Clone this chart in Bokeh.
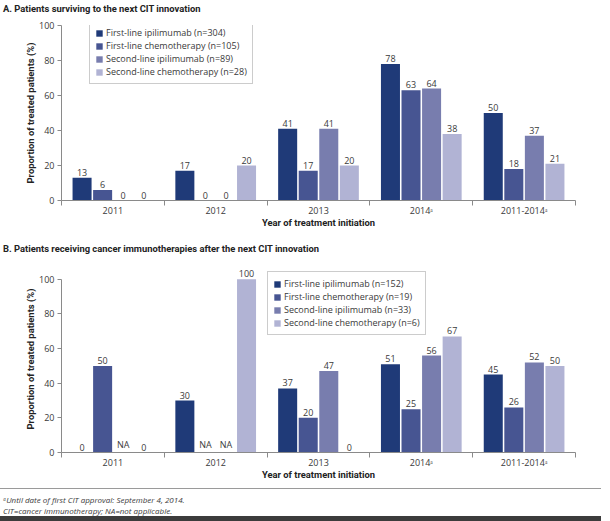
from bokeh.plotting import figure
from bokeh.models import (ColumnDataSource, FixedTicker, LabelSet, Legend, LegendItem,
                          Range1d, Div)
from bokeh.layouts import column
from bokeh.core.properties import value
from bokeh.embed import file_html
from bokeh.resources import INLINE

# ---------------- data ----------------
categories = ["2011", "2012", "2013", "2014ᵃ", "2011-2014ᵃ"]

title_A = "A. Patients surviving to the next CIT innovation"
names_A = ["First-line ipilimumab (n=304)", "First-line chemotherapy (n=105)",
           "Second-line ipilimumab (n=89)", "Second-line chemotherapy (n=28)"]
a_first_ipi = [13, 17, 41, 78, 50]
a_first_chemo = [6, 0, 17, 63, 18]
a_second_ipi = [0, 0, 41, 64, 37]
a_second_chemo = [0, 20, 20, 38, 21]

title_B = "B. Patients receiving cancer immunotherapies after the next CIT innovation"
names_B = ["First-line ipilimumab (n=152)", "First-line chemotherapy (n=19)",
           "Second-line ipilimumab (n=33)", "Second-line chemotherapy (n=6)"]
b_first_ipi = [0, 30, 37, 51, 45]
b_first_chemo = [50, None, 20, 25, 26]   # None = NA
b_second_ipi = [None, None, 47, 56, 52]
b_second_chemo = [0, 100, 0, 67, 50]

y_ticks = [0, 20, 40, 60, 80, 100]
x_title = "Year of treatment initiation"
y_title = "Proportion of treated patients (%)"
footnote_1 = "ᵃUntil date of first CIT approval: September 4, 2014."
footnote_2 = "CIT=cancer immunotherapy; NA=not applicable."

colors = ["#1f3a78", "#475592", "#787dae", "#b1b3d4"]

BODY = "Open Sans"
BOLD = "Roboto"
AXIS_COLOR = "#8a8a8a"
TEXT_COLOR = "#3a3a3a"
W = 610


def header(text, height):
    html = (f'<div style="width:{W}px;height:{height}px;line-height:{height - 2}px;'
            f'padding-left:3px;box-sizing:border-box;white-space:nowrap;'
            f'font-family:{BOLD};font-size:9.4px;font-weight:bold;color:#222222;">'
            f'{text}</div>')
    return Div(text=html, width=W, height=height, margin=(0, 0, 0, 0))


def make_panel(names, series, height, top, bottom, y_end, legend_loc):
    n = len(categories)
    p = figure(width=W, height=height, output_backend="svg", toolbar_location=None,
               x_range=Range1d(0, n), y_range=Range1d(0, y_end),
               min_border_left=61, min_border_right=35,
               min_border_top=top, min_border_bottom=bottom)
    p.outline_line_color = None
    p.grid.visible = False

    offsets = [-0.3, -0.1, 0.1, 0.3]
    items = []
    for k, (vals, name) in enumerate(zip(series, names)):
        xs = [i + 0.5 + offsets[k] for i in range(n)]
        tops = [v if v is not None else 0 for v in vals]
        texts = [str(v) if v is not None else "NA" for v in vals]
        src = ColumnDataSource(dict(x=xs, top=tops, text=texts))
        r = p.vbar(x="x", top="top", width=0.185, source=src,
                   fill_color=colors[k], line_color=None)
        items.append(LegendItem(label=name, renderers=[r]))
        p.add_layout(LabelSet(x="x", y="top", text="text", source=src,
                              text_align="center", text_baseline="bottom", y_offset=2,
                              text_font=value(BODY), text_font_size="9px",
                              text_color=TEXT_COLOR))

    legend = Legend(items=items, location=legend_loc)
    legend.border_line_color = "#9a9a9a"
    legend.border_line_width = 1
    legend.padding = 5
    legend.spacing = 0
    legend.margin = 0
    legend.label_height = 12
    legend.glyph_height = 8
    legend.glyph_width = 8
    legend.label_standoff = 3
    legend.label_width = 134
    legend.label_text_font = BODY
    legend.label_text_font_size = "9px"
    legend.label_text_color = TEXT_COLOR
    p.add_layout(legend)

    # x axis: labels at group centres, ticks at group boundaries
    xa = p.xaxis[0]
    xa.ticker = FixedTicker(ticks=[i + 0.5 for i in range(n)],
                            minor_ticks=[float(i) for i in range(n + 1)])
    xa.major_label_overrides = {i + 0.5: c for i, c in enumerate(categories)}
    xa.major_tick_in = 0
    xa.major_tick_out = 0
    xa.minor_tick_in = 0
    xa.minor_tick_out = 5
    xa.minor_tick_line_color = AXIS_COLOR
    xa.axis_line_color = AXIS_COLOR
    xa.major_label_standoff = -2
    xa.major_label_text_font = BODY
    xa.major_label_text_font_size = "9px"
    xa.major_label_text_color = TEXT_COLOR
    xa.axis_label = x_title
    xa.axis_label_text_font = BOLD
    xa.axis_label_text_font_size = "9.4px"
    xa.axis_label_text_font_style = "bold"
    xa.axis_label_text_color = "#222222"
    xa.axis_label_standoff = -3

    ya = p.yaxis[0]
    ya.ticker = FixedTicker(ticks=y_ticks, minor_ticks=[])
    ya.bounds = (y_ticks[0], y_ticks[-1])
    ya.major_tick_in = 0
    ya.major_tick_out = 4
    ya.major_tick_line_color = AXIS_COLOR
    ya.axis_line_color = AXIS_COLOR
    ya.major_label_standoff = 3
    ya.major_label_text_font = BODY
    ya.major_label_text_font_size = "9px"
    ya.major_label_text_color = TEXT_COLOR
    ya.axis_label = y_title
    ya.axis_label_text_font = BOLD
    ya.axis_label_text_font_size = "9.4px"
    ya.axis_label_text_font_style = "bold"
    ya.axis_label_text_color = "#222222"
    ya.axis_label_standoff = 0
    return p


hA = header(title_A, 16)
pA = make_panel(names_A, [a_first_ipi, a_first_chemo, a_second_ipi, a_second_chemo],
                height=224, top=9, bottom=40, y_end=100, legend_loc=(28, 116))
hB = header(title_B, 18)
pB = make_panel(names_B, [b_first_ipi, b_first_chemo, b_second_ipi, b_second_chemo],
                height=230, top=7, bottom=36, y_end=108, legend_loc=(206, 117))

footer_html = (
    f'<div style="position:relative;width:{W}px;height:33px;">'
    '<div style="position:absolute;left:0;top:0;width:601px;height:1px;background:#9a9a9a;"></div>'
    f'<div style="position:absolute;left:3px;top:6px;font-family:{BODY};font-size:8px;'
    f'font-style:italic;line-height:11px;color:{TEXT_COLOR};white-space:nowrap;">'
    f'{footnote_1}<br>{footnote_2}</div>'
    '<div style="position:absolute;left:0;top:28px;width:601px;height:5px;background:#3c3c3c;"></div>'
    '</div>'
)
pf = Div(text=footer_html, width=W, height=33, margin=(0, 0, 0, 0))

layout = column(hA, pA, hB, pB, pf, spacing=0)
open("out.html", "w").write(file_html(layout, INLINE))
